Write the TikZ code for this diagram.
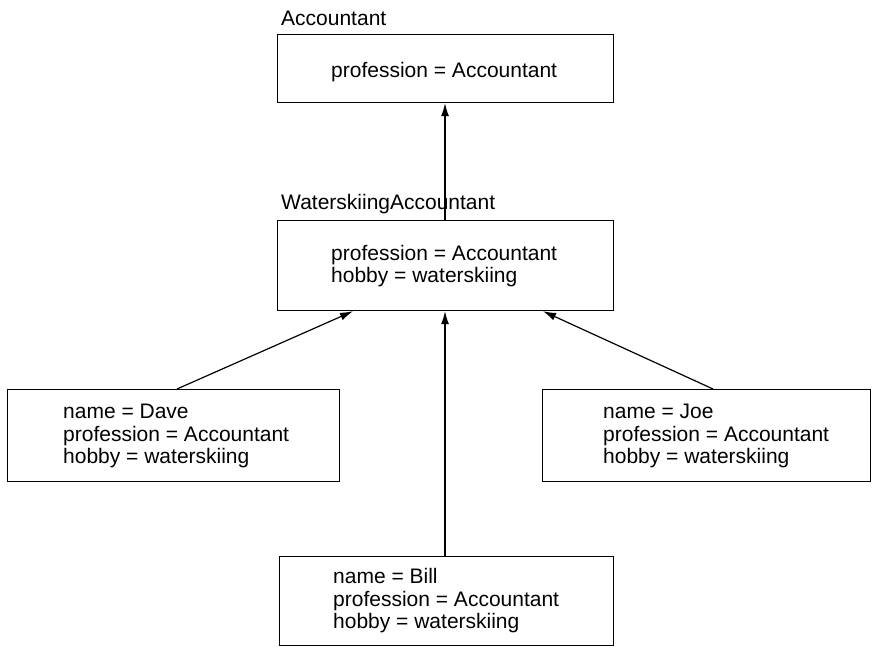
\documentclass[tikz,border=0pt]{standalone}
\usepackage{fontspec}
\setmainfont{Liberation Sans}
\usetikzlibrary{arrows.meta}
\begin{document}
\begin{tikzpicture}[x=1pt,y=-1pt,
  box/.style={draw,line width=1.2pt,anchor=north west,inner sep=0pt},
  txt/.style={anchor=west,align=left,inner sep=0pt,font=\fontsize{21}{22.5}\selectfont},
  lbl/.style={anchor=base west,inner sep=0pt,font=\fontsize{21}{22.5}\selectfont},
  arr/.style={line width=1.2pt,-{Latex[length=13pt,width=8pt]}}]
\useasboundingbox (0,0) rectangle (872,648);
% Accountant
\node[lbl] (accl) at (281,25) {Accountant};
\node[box,minimum width=336pt,minimum height=68pt] (acc) at (277,34) {};
\node[txt] (acct) at (331,72) {profession = Accountant};
% WaterskiingAccountant
\node[lbl] (wal) at (281,209) {WaterskiingAccountant};
\node[box,minimum width=336pt,minimum height=90pt] (wa) at (277,220) {};
\node[txt] (wat) at (331,266) {profession = Accountant\\hobby = waterskiing};
% Dave
\node[box,minimum width=332pt,minimum height=92pt] (dave) at (7,389) {};
\node[txt] (davet) at (63,436) {name = Dave\\profession = Accountant\\hobby = waterskiing};
% Joe
\node[box,minimum width=328pt,minimum height=92pt] (joe) at (542,389) {};
\node[txt] (joet) at (603,436) {name = Joe\\profession = Accountant\\hobby = waterskiing};
% Bill
\node[box,minimum width=334pt,minimum height=89pt] (bill) at (279,556) {};
\node[txt] (billt) at (333,601) {name = Bill\\profession = Accountant\\hobby = waterskiing};
% arrows
\coordinate (ax) at (445,0);
\draw[arr] (wa.north -| ax) -- (acc.south -| ax);
\coordinate (ds) at (177,0);
\coordinate (de) at (353,0);
\draw[arr] (dave.north -| ds) -- (wa.south -| de);
\coordinate (js) at (713,0);
\coordinate (je) at (543,0);
\draw[arr] (joe.north -| js) -- (wa.south -| je);
\draw[arr] (bill.north -| ax) -- (wa.south -| ax);
\end{tikzpicture}
\end{document}
